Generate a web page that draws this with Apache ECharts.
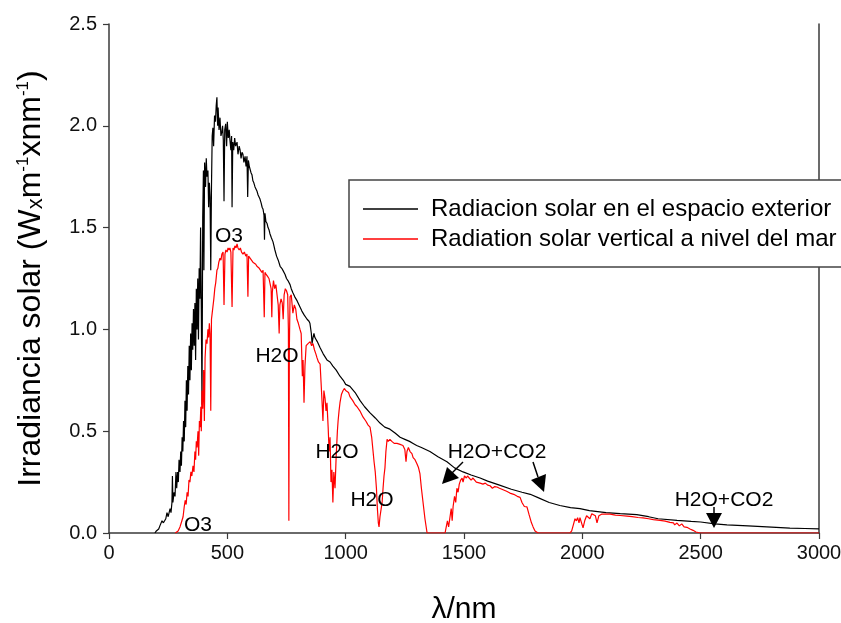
<!DOCTYPE html>
<html>
<head>
<meta charset="utf-8">
<script src="https://cdn.jsdelivr.net/npm/echarts@6/dist/echarts.min.js"></script>
<style>
  html, body { margin: 0; padding: 0; background: #fff; }
  #chart { width: 841px; height: 623px; }
</style>
</head>
<body>
<div id="chart"></div>
<script>
// spectra: [wavelength nm, irradiance W m-2 nm-1]
const exterior = [
  [194,0],[200,0.01],[210,0.02],[215,0.035],[220,0.03],[224,0.06],[230,0.05],[240,0.07],[245,0.1],[250,0.08],
  [258,0.12],[262,0.1],[266,0.15],[268,0.28],[270,0.15],[275,0.2],[279,0.18],[283,0.3],[286,0.22],[290,0.3],
  [293,0.25],[296,0.36],[300,0.3],[303,0.4],[306,0.33],[309,0.47],[312,0.4],[315,0.55],[318,0.45],[321,0.65],
  [324,0.52],[327,0.75],[330,0.6],[333,0.82],[336,0.68],[339,0.92],[342,0.75],[345,0.98],[348,0.8],[351,1.03],
  [354,0.9],[357,1.1],[360,0.92],[363,1.13],[366,0.85],[369,1.2],[372,1.0],[375,1.25],[378,0.95],[381,1.3],
  [384,1.15],[387,1.5],[390,1.1],[393,0.63],[396,1.55],[399,1.78],[401,1.29],[404,1.82],[408,1.7],[411,1.84],
  [414,1.75],[418,1.78],[421,1.6],[424,1.72],[427,1.65],[430,1.29],[433,1.7],[436,1.95],[439,1.99],[442,1.9],
  [446,2.05],[450,2.02],[453,2.1],[456,2.14],[459,2.0],[461,2.09],[465,1.98],[469,2.04],[473,1.95],[477,1.97],
  [480,2.0],[483,1.93],[486,1.63],[489,1.98],[493,2.01],[497,1.9],[500,2.02],[504,1.94],[508,1.98],[511,1.93],
  [515,1.88],[518,1.95],[520,1.6],[523,1.92],[527,1.88],[531,1.94],[535,1.9],[541,1.92],[545,1.86],[550,1.9],
  [554,1.88],[558,1.84],[562,1.87],[566,1.86],[570,1.82],[575,1.85],[579,1.8],[583,1.85],[586,1.65],[589,1.83],
  [593,1.8],[596,1.8],[600,1.77],[604,1.76],[608,1.73],[612,1.72],[617,1.7],[621,1.69],[625,1.68],[630,1.66],
  [634,1.65],[638,1.64],[643,1.62],[647,1.6],[651,1.59],[655,1.56],[657,1.44],[659,1.57],[663,1.53],[668,1.52],
  [672,1.5],[676,1.49],[680,1.47],[686,1.45],[693,1.43],[697,1.41],[701,1.39],[708,1.36],[715,1.34],[723,1.31],
  [730,1.3],[735,1.29],[744,1.27],[750,1.25],[756,1.24],[765,1.22],[770,1.2],[777,1.18],[785,1.16],[795,1.14],
  [807,1.11],[815,1.09],[825,1.07],[837,1.05],[845,1.04],[849,1.03],[855,0.98],[858,0.93],[862,0.96],[866,0.98],
  [870,0.96],[880,0.94],[892,0.91],[905,0.88],[921,0.85],[934,0.84],[946,0.82],[960,0.8],[976,0.77],[990,0.75],
  [1000,0.73],[1018,0.72],[1040,0.69],[1061,0.65],[1080,0.62],[1103,0.59],[1125,0.565],[1145,0.54],[1165,0.52],[1187,0.51],
  [1210,0.49],[1230,0.47],[1250,0.46],[1270,0.45],[1285,0.44],[1300,0.43],[1320,0.42],[1356,0.4],[1390,0.375],[1428,0.35],
  [1460,0.32],[1496,0.3],[1530,0.285],[1568,0.27],[1600,0.255],[1650,0.235],[1700,0.215],[1745,0.2],[1780,0.19],[1820,0.17],
  [1860,0.15],[1905,0.135],[1950,0.125],[1990,0.12],[2030,0.11],[2100,0.1],[2160,0.095],[2230,0.09],[2280,0.08],[2320,0.07],
  [2400,0.062],[2460,0.057],[2500,0.054],[2560,0.045],[2611,0.04],[2700,0.035],[2780,0.03],[2877,0.024],[2940,0.022],[3000,0.02]
];

const seaLevel = [
  [280,0],[287,0],[292,0.01],[300,0.03],[308,0.06],[313,0.08],[318,0.13],[322,0.16],[326,0.14],[330,0.2],
  [334,0.18],[338,0.26],[342,0.25],[346,0.3],[350,0.28],[355,0.33],[359,0.3],[363,0.4],[366,0.36],[369,0.45],
  [372,0.42],[376,0.5],[379,0.38],[382,0.55],[385,0.52],[388,0.62],[390,0.5],[393,0.7],[396,0.61],[400,0.8],
  [403,0.55],[406,0.86],[410,0.95],[414,0.93],[418,1.0],[421,0.96],[424,1.03],[427,0.98],[430,0.6],[433,1.05],
  [436,1.08],[439,1.11],[443,1.15],[447,1.2],[451,1.23],[456,1.29],[460,1.3],[464,1.33],[469,1.35],[473,1.34],
  [477,1.37],[482,1.38],[486,1.12],[490,1.37],[494,1.39],[499,1.38],[503,1.4],[507,1.39],[511,1.4],[515,1.38],
  [520,1.11],[524,1.4],[528,1.39],[532,1.41],[537,1.4],[541,1.42],[545,1.4],[550,1.39],[555,1.4],[560,1.38],
  [566,1.37],[572,1.38],[578,1.36],[583,1.37],[587,1.16],[590,1.36],[596,1.35],[602,1.34],[608,1.33],[614,1.33],
  [620,1.32],[625,1.31],[630,1.31],[635,1.3],[640,1.3],[646,1.28],[651,1.29],[656,1.06],[659,1.28],[664,1.27],
  [670,1.26],[676,1.25],[680,1.25],[685,1.2],[688,1.06],[690,1.18],[695,1.24],[700,1.2],[705,1.22],[710,1.17],
  [715,1.12],[719,0.98],[722,1.12],[727,1.15],[732,1.13],[736,1.05],[740,1.17],[745,1.2],[750,1.19],[755,1.17],
  [758,1.0],[760,0.06],[762,0.9],[765,1.16],[770,1.17],[777,1.08],[783,1.12],[789,1.1],[794,1.05],[800,1.03],
  [807,1.0],[812,0.98],[817,0.77],[820,0.85],[824,0.64],[828,0.82],[833,0.92],[841,0.93],[850,0.94],[856,0.92],
  [862,0.93],[868,0.9],[874,0.88],[879,0.86],[885,0.84],[892,0.83],[896,0.74],[900,0.65],[904,0.55],[908,0.7],
  [913,0.66],[917,0.6],[921,0.64],[926,0.52],[930,0.4],[934,0.47],[938,0.25],[942,0.31],[946,0.15],[950,0.3],
  [955,0.22],[960,0.38],[965,0.5],[968,0.55],[972,0.6],[976,0.64],[982,0.68],[989,0.7],[995,0.71],[1000,0.7],
  [1006,0.7],[1012,0.69],[1018,0.67],[1030,0.65],[1040,0.63],[1048,0.62],[1060,0.6],[1073,0.57],[1085,0.55],[1095,0.53],
  [1103,0.52],[1110,0.47],[1115,0.41],[1120,0.35],[1125,0.3],[1130,0.22],[1134,0.12],[1138,0.05],[1141,0.03],[1145,0.08],
  [1150,0.12],[1154,0.15],[1158,0.22],[1162,0.28],[1166,0.32],[1170,0.4],[1175,0.46],[1180,0.45],[1187,0.46],[1195,0.45],
  [1205,0.44],[1217,0.44],[1230,0.435],[1242,0.43],[1250,0.41],[1255,0.35],[1259,0.4],[1265,0.42],[1272,0.4],[1280,0.39],
  [1285,0.37],[1293,0.36],[1301,0.34],[1308,0.32],[1314,0.29],[1320,0.22],[1327,0.15],[1335,0.07],[1344,0],[1420,0],
  [1425,0.03],[1430,0.06],[1435,0.03],[1441,0.08],[1446,0.12],[1450,0.06],[1454,0.13],[1460,0.18],[1465,0.15],[1470,0.22],
  [1475,0.2],[1480,0.24],[1486,0.26],[1492,0.27],[1496,0.25],[1502,0.28],[1510,0.27],[1515,0.28],[1522,0.27],[1530,0.26],
  [1538,0.27],[1545,0.26],[1552,0.25],[1560,0.255],[1568,0.245],[1580,0.24],[1590,0.245],[1600,0.235],[1610,0.232],[1620,0.22],
  [1630,0.228],[1639,0.226],[1650,0.22],[1660,0.215],[1670,0.21],[1680,0.205],[1694,0.196],[1710,0.19],[1725,0.18],[1737,0.175],
  [1745,0.15],[1755,0.13],[1766,0.128],[1775,0.09],[1785,0.05],[1792,0.03],[1800,0.01],[1813,0],[1948,0],[1955,0.01],
  [1962,0.04],[1969,0.07],[1975,0.06],[1980,0.075],[1986,0.05],[1990,0.075],[1996,0.07],[2003,0.025],[2010,0.06],[2018,0.085],
  [2024,0.09],[2032,0.07],[2040,0.095],[2045,0.1],[2055,0.085],[2062,0.05],[2070,0.085],[2083,0.093],[2100,0.093],[2117,0.093],
  [2140,0.088],[2160,0.086],[2189,0.083],[2210,0.08],[2235,0.076],[2256,0.074],[2280,0.07],[2300,0.066],[2328,0.062],[2350,0.058],
  [2370,0.052],[2385,0.05],[2390,0.04],[2400,0.049],[2410,0.035],[2420,0.045],[2430,0.03],[2442,0.028],[2455,0.02],[2468,0.013],
  [2480,0.005],[2497,0],[3000,0]
];

const seriesNames = ['Radiacion solar en el espacio exterior', 'Radiation solar vertical a nivel del mar'];
const xTicks = [0, 3000, 500];
const yTicks = [0, 2.5, 0.5];

const FONT = 'Liberation Sans, Arial, sans-serif';
const axisColor = '#3a3a3a';

let chart = echarts.init(document.getElementById('chart'));

// annotation labels (pixel placed, like the text boxes of the original plot)
function label(text, x, y) {
  return {
    type: 'text', x: x, y: y, z: 50,
    style: { text: text, fill: '#000', fontSize: 21, fontFamily: FONT, align: 'center', verticalAlign: 'middle' }
  };
}
function arrow(x1, y1, x2, y2, head) {
  return [
    { type: 'line', z: 50, shape: { x1: x1, y1: y1, x2: x2, y2: y2 }, style: { stroke: '#000', lineWidth: 1.5 } },
    { type: 'polygon', z: 50, shape: { points: head }, style: { fill: '#000' } }
  ];
}

let option = {
  backgroundColor: '#fff',
  animation: false,
  grid: { left: 109, right: 22, top: 24, bottom: 90, outerBoundsMode: 'none' },
  legend: {
    orient: 'vertical',
    left: 349,
    top: 180,
    padding: [17, 60, 16, 14],
    backgroundColor: '#fff',
    borderColor: '#444',
    borderWidth: 1.5,
    icon: 'rect',
    itemWidth: 55,
    itemHeight: 1.3,
    itemGap: 6,
    textStyle: { fontSize: 24, fontFamily: FONT, color: '#000', padding: [0, 0, 0, 8] },
    data: seriesNames,
    z: 20
  },
  xAxis: {
    type: 'value',
    min: xTicks[0], max: xTicks[1], interval: xTicks[2],
    name: 'λ/nm',
    nameLocation: 'middle',
    nameGap: 62,
    nameTextStyle: { fontSize: 30, fontFamily: FONT, color: '#000' },
    axisLine: { show: true, lineStyle: { color: axisColor, width: 1.5 } },
    axisTick: { show: true, length: 6, lineStyle: { color: axisColor, width: 1.2 } },
    axisLabel: { fontSize: 20, fontFamily: FONT, color: '#111', margin: 10, formatter: v => String(v) },
    splitLine: { show: false }
  },
  yAxis: [{
    type: 'value',
    min: yTicks[0], max: yTicks[1], interval: yTicks[2],
    name: '{a|Irradiancia solar (W}{s|x}{a|m}{sup|-1}{a|xnm}{sup|-1}{a|)}',
    nameLocation: 'middle',
    nameGap: 62,
    nameRotate: 90,
    nameTextStyle: {
      rich: {
        a: { fontSize: 32, fontFamily: FONT, color: '#000' },
        s: { fontSize: 22, fontFamily: FONT, color: '#000', verticalAlign: 'bottom' },
        sup: { fontSize: 17, fontFamily: FONT, color: '#000', verticalAlign: 'top' }
      }
    },
    axisLine: { show: true, lineStyle: { color: axisColor, width: 1.5 } },
    axisTick: { show: true, length: 6, lineStyle: { color: axisColor, width: 1.2 } },
    axisLabel: { fontSize: 20, fontFamily: FONT, color: '#111', margin: 12, formatter: v => v.toFixed(1) },
    splitLine: { show: false }
  }, {
    type: 'value', position: 'right',
    min: yTicks[0], max: yTicks[1],
    axisLine: { show: true, lineStyle: { color: axisColor, width: 1.5 } },
    axisTick: { show: false }, axisLabel: { show: false }, splitLine: { show: false }
  }],
  series: [{
    name: seriesNames[0],
    type: 'line',
    data: exterior,
    symbol: 'none',
    lineStyle: { color: '#000', width: 1.2 },
    itemStyle: { color: '#000' }
  }, {
    name: seriesNames[1],
    type: 'line',
    data: seaLevel,
    symbol: 'none',
    lineStyle: { color: '#ff0000', width: 1.2 },
    itemStyle: { color: '#ff0000' }
  }],
  graphic: [
    label('O3', 229, 236),
    label('O3', 198, 525),
    label('H2O', 277, 356),
    label('H2O', 337, 452),
    label('H2O', 372, 500),
    label('H2O+CO2', 497, 452),
    label('H2O+CO2', 724, 500)
  ].concat(
    arrow(463, 462, 450, 475, [[442, 484], [459, 478], [447, 467]]),
    arrow(533, 462, 538, 477, [[544, 492], [546, 474], [531, 480]]),
    arrow(714, 507, 714, 514, [[714, 528], [706, 513], [722, 513]])
  )
};
chart.setOption(option);
</script>
</body>
</html>
